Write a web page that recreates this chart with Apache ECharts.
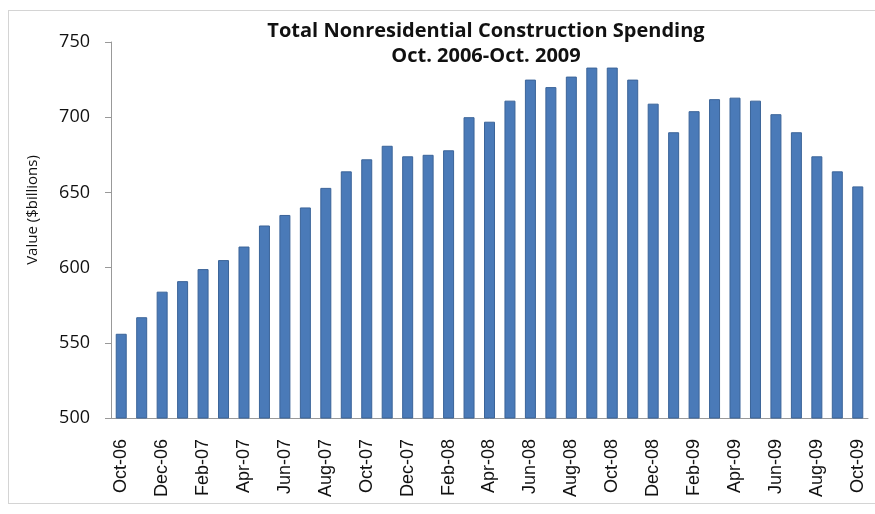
<!DOCTYPE html>
<html>
<head>
<meta charset="utf-8">
<script src="https://cdn.jsdelivr.net/npm/echarts@6/dist/echarts.min.js"></script>
<style>
  html, body { margin: 0; padding: 0; background: #fff; }
  #chart { width: 875px; height: 514px; }
  /* thin frame like the pasted Excel chart */
  #frame {
    position: absolute; left: 8px; top: 10px; width: 880px; height: 492px;
    border: 1px solid #d4d4d4; pointer-events: none;
  }
</style>
</head>
<body>
<div id="chart"></div>
<div id="frame"></div>
<script>
const months = [
  'Oct-06', 'Nov-06', 'Dec-06', 'Jan-07', 'Feb-07', 'Mar-07', 'Apr-07', 'May-07', 'Jun-07', 'Jul-07',
  'Aug-07', 'Sep-07', 'Oct-07', 'Nov-07', 'Dec-07', 'Jan-08', 'Feb-08', 'Mar-08', 'Apr-08', 'May-08',
  'Jun-08', 'Jul-08', 'Aug-08', 'Sep-08', 'Oct-08', 'Nov-08', 'Dec-08', 'Jan-09', 'Feb-09', 'Mar-09',
  'Apr-09', 'May-09', 'Jun-09', 'Jul-09', 'Aug-09', 'Sep-09', 'Oct-09'
];

// spending, $ billions
const spending = [
  556, 567, 584, 591, 599, 605, 614, 628, 635, 640,
  653, 664, 672, 681, 674, 675, 678, 700, 697, 711,
  725, 720, 727, 733, 733, 725, 709, 690, 704, 712,
  713, 711, 702, 690, 674, 664, 654
];

const titleLines = ['Total Nonresidential Construction Spending', 'Oct. 2006-Oct. 2009'];

const chart = echarts.init(document.getElementById('chart'));

chart.setOption({
  animation: false,
  title: {
    text: titleLines.join('\n'),
    left: 481,
    top: 14,
    textAlign: 'center',
    textStyle: {
      fontFamily: 'Open Sans',
      fontSize: 20,
      fontWeight: 'bold',
      color: '#111',
      lineHeight: 25
    }
  },
  grid: {
    left: 111,
    right: 7,
    top: 42,
    bottom: 96,
    containLabel: false
  },
  xAxis: {
    type: 'category',
    data: months,
    axisLine: { lineStyle: { color: '#999' } },
    axisTick: { interval: 1, length: 6, lineStyle: { color: '#aaa' } },
    axisLabel: {
      interval: 1,
      rotate: 90,
      fontFamily: 'Liberation Sans',
      fontSize: 18,
      color: '#111',
      margin: 21
    }
  },
  yAxis: {
    type: 'value',
    min: 500,
    max: 750,
    interval: 50,
    name: 'Value ($billions)',
    nameLocation: 'middle',
    nameGap: 71,
    nameTextStyle: {
      fontFamily: 'Open Sans',
      fontSize: 15,
      color: '#111',
      padding: [0, 0, 0, 40]
    },
    axisLine: { show: true, lineStyle: { color: '#999' } },
    axisTick: { show: true, length: 6, lineStyle: { color: '#999' } },
    splitLine: { show: false },
    axisLabel: {
      fontFamily: 'Open Sans',
      fontSize: 18,
      color: '#111',
      margin: 21
    }
  },
  series: [
    {
      type: 'bar',
      data: spending,
      barWidth: 11,
      itemStyle: {
        color: '#4a7ab8',
        borderColor: '#3b6499',
        borderWidth: 1
      }
    }
  ]
});
</script>
</body>
</html>
